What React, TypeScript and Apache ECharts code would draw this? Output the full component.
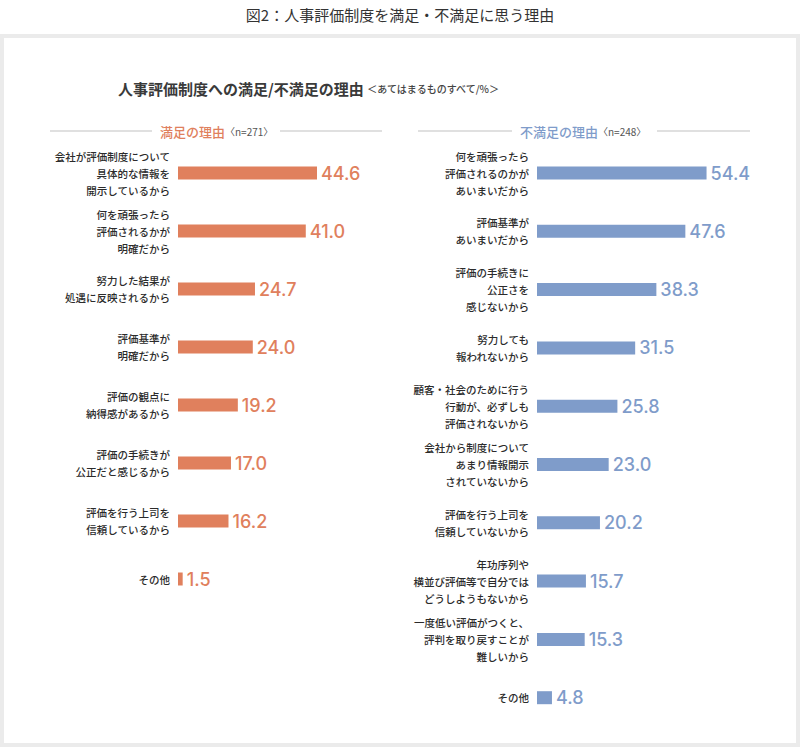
import { useEffect, useRef } from 'react';
import * as echarts from 'echarts';

const JP = "'Noto Sans CJK JP', sans-serif";
const NUM = "Inter, 'Noto Sans', sans-serif";

const ORANGE = '#e0805d';
const BLUE = '#7f9cca';

// 満足の理由 (n=271)
const satisfiedReasons = [
  '会社が評価制度について\n具体的な情報を\n開示しているから',
  '何を頑張ったら\n評価されるかが\n明確だから',
  '努力した結果が\n処遇に反映されるから',
  '評価基準が\n明確だから',
  '評価の観点に\n納得感があるから',
  '評価の手続きが\n公正だと感じるから',
  '評価を行う上司を\n信頼しているから',
  'その他',
];
const satisfiedValues = [44.6, 41.0, 24.7, 24.0, 19.2, 17.0, 16.2, 1.5];

// 不満足の理由 (n=248)
const dissatisfiedReasons = [
  '何を頑張ったら\n評価されるのかが\nあいまいだから',
  '評価基準が\nあいまいだから',
  '評価の手続きに\n公正さを\n感じないから',
  '努力しても\n報われないから',
  '顧客・社会のために行う\n行動が、必ずしも\n評価されないから',
  '会社から制度について\nあまり情報開示\nされていないから',
  '評価を行う上司を\n信頼していないから',
  '年功序列や\n横並び評価等で自分では\nどうしようもないから',
  '一度低い評価がつくと、\n評判を取り戻すことが\n難しいから',
  'その他',
];
const dissatisfiedValues = [54.4, 47.6, 38.3, 31.5, 25.8, 23.0, 20.2, 15.7, 15.3, 4.8];

const X_MAX = 60;

function makeSeries(values: number[], color: string, idx: number): echarts.SeriesOption {
  return {
    type: 'bar',
    xAxisIndex: idx,
    yAxisIndex: idx,
    data: values,
    barWidth: 13,
    itemStyle: { color },
    label: {
      show: true,
      position: 'right',
      distance: 4,
      color,
      fontFamily: NUM,
      fontSize: 18,
      fontWeight: 500,
      formatter: (p: any) => Number(p.value).toFixed(1),
    },
  };
}

function makeYAxis(cats: string[], idx: number): echarts.YAXisComponentOption {
  return {
    type: 'category',
    gridIndex: idx,
    data: cats,
    inverse: true,
    axisLine: { show: false },
    axisTick: { show: false },
    splitLine: { show: false },
    axisLabel: {
      margin: 8,
      color: '#2b2b2b',
      fontFamily: JP,
      fontSize: 10.5,
      fontWeight: 500,
      lineHeight: 17,
      align: 'right',
    },
  };
}

function makeXAxis(idx: number): echarts.XAXisComponentOption {
  return {
    type: 'value',
    gridIndex: idx,
    min: 0,
    max: X_MAX,
    show: false,
  };
}

export default function App() {
  const chartRef = useRef<HTMLDivElement>(null);

  useEffect(() => {
    if (!chartRef.current) return;
    const chart = echarts.init(chartRef.current, undefined, { renderer: 'svg' });

    const lineStyle = { stroke: '#d6d6d6', lineWidth: 1.5 };

    const option: echarts.EChartsOption = {
      animation: false,
      backgroundColor: '#fff',
      graphic: [
        // frame
        { type: 'rect', z: -10, shape: { x: 0, y: 34, width: 800, height: 713 }, style: { fill: '#ebebeb' } },
        { type: 'rect', z: -9, shape: { x: 4, y: 38, width: 792, height: 705 }, style: { fill: '#fff' } },
        {
          type: 'text',
          x: 400,
          y: 14,
          style: {
            text: '図2：人事評価制度を満足・不満足に思う理由',
            fontFamily: JP,
            fontSize: 15,
            fill: '#333',
            align: 'center',
            verticalAlign: 'middle',
          },
        },
        {
          type: 'text',
          x: 118,
          y: 88,
          style: {
            text: '{a|人事評価制度への満足/不満足の理由} {b|＜あてはまるものすべて/%＞}',
            verticalAlign: 'middle',
            rich: {
              a: { fontFamily: JP, fontSize: 15, fontWeight: 'bold', fill: '#3a3a3a' },
              b: { fontFamily: JP, fontSize: 10, fontWeight: 500, fill: '#444' },
            },
          },
        },
        // left header
        { type: 'line', shape: { x1: 50, y1: 131, x2: 152, y2: 131 }, style: lineStyle },
        { type: 'line', shape: { x1: 280, y1: 131, x2: 382, y2: 131 }, style: lineStyle },
        {
          type: 'text',
          x: 160,
          y: 131,
          style: {
            text: '{a|満足の理由}{b|〈n=271〉}',
            verticalAlign: 'middle',
            rich: {
              a: { fontFamily: JP, fontSize: 13, fontWeight: 500, fill: ORANGE },
              b: { fontFamily: JP, fontSize: 10, fill: '#555' },
            },
          },
        },
        // right header
        { type: 'line', shape: { x1: 418, y1: 131, x2: 512, y2: 131 }, style: lineStyle },
        { type: 'line', shape: { x1: 657, y1: 131, x2: 750, y2: 131 }, style: lineStyle },
        {
          type: 'text',
          x: 520,
          y: 131,
          style: {
            text: '{a|不満足の理由}{b|〈n=248〉}',
            verticalAlign: 'middle',
            rich: {
              a: { fontFamily: JP, fontSize: 13, fontWeight: 500, fill: BLUE },
              b: { fontFamily: JP, fontSize: 10, fill: '#555' },
            },
          },
        },
      ],
      grid: [
        { left: 178, top: 144, width: 187, height: 464 },
        { left: 537, top: 143.85, width: 187, height: 583 },
      ],
      xAxis: [makeXAxis(0), makeXAxis(1)],
      yAxis: [makeYAxis(satisfiedReasons, 0), makeYAxis(dissatisfiedReasons, 1)],
      series: [makeSeries(satisfiedValues, ORANGE, 0), makeSeries(dissatisfiedValues, BLUE, 1)],
    };

    chart.setOption(option);
    return () => chart.dispose();
  }, []);

  return (
    <div style={{ position: 'absolute', left: 0, top: 0, width: 800, height: 747 }}>
      <div ref={chartRef} style={{ width: 800, height: 747 }} />
    </div>
  );
}
